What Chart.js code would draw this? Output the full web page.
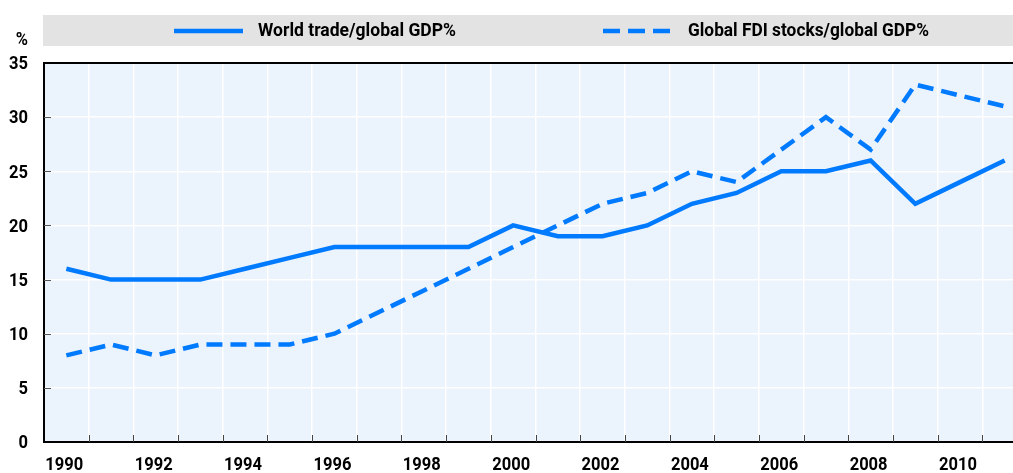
<!DOCTYPE html>
<html>
<head>
<meta charset="utf-8">
<script src="https://cdn.jsdelivr.net/npm/chart.js@4/dist/chart.umd.min.js"></script>
<style>
  html, body { margin: 0; padding: 0; background: #fff; overflow: hidden; width: 1013px; height: 473px; }
  #wrap { position: relative; width: 1040px; height: 473px; }
</style>
</head>
<body>
<div id="wrap"><canvas id="c" width="1040" height="473"></canvas></div>
<script>
const years = ["1990","1991","1992","1993","1994","1995","1996","1997","1998","1999","2000","2001","2002","2003","2004","2005","2006","2007","2008","2009","2010","2011"];
const worldTrade = [16,15,15,15,16,17,18,18,18,18,20,19,19,20,22,23,25,25,26,22,24,26];
const fdiStocks  = [8,9,8,9,9,9,10,12,14,16,18,20,22,23,25,24,27,30,27,33,32,31];
const yTicks = [0,5,10,15,20,25,30,35];
const xTickLabels = ["1990","1992","1994","1996","1998","2000","2002","2004","2006","2008","2010"];
const seriesNames = ["World trade/global GDP%", "Global FDI stocks/global GDP%"];
const yUnit = "%";

const BLUE = "rgb(0,122,255)";
const FONT = 'Roboto, "DejaVu Sans Condensed", sans-serif';
const DASH = [16, 8];

const L = 44, T = 63, B = 442, R = 1027;

// draw condensed text: font size fs, horizontal squeeze sx
function ctext(ctx, s, x, y, align, fs, sx) {
  ctx.save();
  ctx.font = "bold " + fs + "px " + FONT;
  ctx.textBaseline = "middle";
  ctx.textAlign = align;
  ctx.translate(x, y);
  ctx.scale(sx, 1);
  ctx.fillText(s, 0, 0);
  ctx.restore();
}
function fitText(ctx, s, x, y, fs, targetW) {
  ctx.save();
  ctx.font = "bold " + fs + "px " + FONT;
  const w = ctx.measureText(s).width;
  ctx.restore();
  ctext(ctx, s, x, y, "left", fs, targetW / w);
}

const decor = {
  id: "decor",
  beforeDraw(chart) {
    const ctx = chart.ctx, a = chart.chartArea;
    ctx.save();
    ctx.fillStyle = "rgb(235,243,252)";
    ctx.fillRect(a.left, a.top, a.right - a.left, a.bottom - a.top);
    ctx.fillStyle = "#e3e3e3";
    ctx.fillRect(43, 15, chart.width - 43, 31);
    ctx.restore();
  },
  afterDraw(chart) {
    const ctx = chart.ctx, a = chart.chartArea;
    const ys = chart.scales.y, xs = chart.scales.x;
    ctx.save();
    ctx.strokeStyle = "#000";
    ctx.lineWidth = 2;
    ctx.beginPath(); ctx.moveTo(a.left - 1, a.top); ctx.lineTo(chart.width, a.top); ctx.stroke();
    ctx.strokeStyle = "#555";
    ctx.lineWidth = 1;
    yTicks.forEach(v => {
      if (v === 0 || v === 35) return;
      const y = Math.round(ys.getPixelForValue(v)) + 0.5;
      ctx.beginPath(); ctx.moveTo(a.left, y); ctx.lineTo(a.left + 7, y); ctx.stroke();
    });
    ctx.strokeStyle = "#444";
    for (let i = 1; i < years.length; i++) {
      const x = Math.round((xs.getPixelForValue(i - 1) + xs.getPixelForValue(i)) / 2) + 0.5;
      ctx.beginPath(); ctx.moveTo(x, a.bottom); ctx.lineTo(x, a.bottom - 7); ctx.stroke();
    }
    ctx.fillStyle = "#000";
    // y tick labels
    yTicks.forEach(v => ctext(ctx, String(v), 28, ys.getPixelForValue(v) + 1.5, "right", 19, 0.87));
    // x tick labels
    xTickLabels.forEach(lab => {
      const i = years.indexOf(lab);
      ctext(ctx, lab, xs.getPixelForValue(i) - 2, 465, "center", 19, 0.87);
    });
    // unit
    ctext(ctx, yUnit, 28, 40, "right", 19, 0.87);
    // legend
    ctx.strokeStyle = BLUE;
    ctx.lineWidth = 4.5;
    ctx.setLineDash([]);
    ctx.beginPath(); ctx.moveTo(174, 31); ctx.lineTo(243, 31); ctx.stroke();
    ctx.setLineDash([17, 8]);
    ctx.beginPath(); ctx.moveTo(603, 31); ctx.lineTo(671, 31); ctx.stroke();
    ctx.setLineDash([]);
    fitText(ctx, seriesNames[0], 258, 31, 19, 198);
    fitText(ctx, seriesNames[1], 688, 31, 19, 241);
    ctx.restore();
  }
};

new Chart(document.getElementById("c"), {
  type: "line",
  data: {
    labels: years,
    datasets: [
      { label: seriesNames[0], data: worldTrade, borderColor: BLUE, borderWidth: 4.5, pointRadius: 0, tension: 0, fill: false },
      { label: seriesNames[1], data: fdiStocks, borderColor: BLUE, borderWidth: 4.5, borderDash: DASH, pointRadius: 0, tension: 0, fill: false }
    ]
  },
  options: {
    responsive: false,
    animation: false,
    devicePixelRatio: 1,
    layout: { padding: { left: 0, top: T, right: 1040 - R, bottom: 0 } },
    plugins: { legend: { display: false }, tooltip: { enabled: false } },
    scales: {
      x: {
        type: "category",
        offset: true,
        grid: { offset: true, color: "#ffffff", lineWidth: 1.5, drawTicks: false },
        border: { display: true, color: "#000", width: 2 },
        ticks: { display: false, autoSkip: false },
        afterFit(s) { s.height = 473 - B; }
      },
      y: {
        min: 0, max: 35,
        afterBuildTicks(s) { s.ticks = yTicks.map(v => ({ value: v })); },
        grid: { color: "#ffffff", lineWidth: 1.5, drawTicks: false },
        border: { display: true, color: "#000", width: 2 },
        ticks: { display: false },
        afterFit(s) { s.width = L; }
      }
    }
  },
  plugins: [decor]
});
</script>
</body>
</html>
